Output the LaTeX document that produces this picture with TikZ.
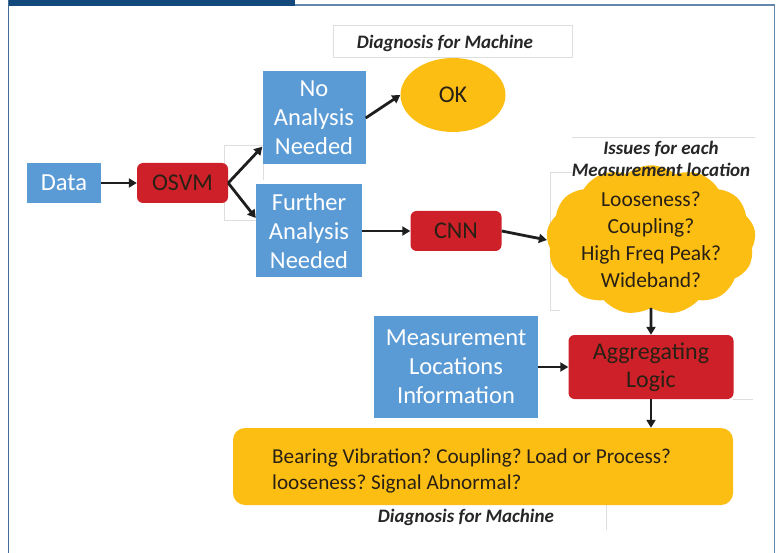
\documentclass[tikz,border=0pt]{standalone}
\usepackage{fontspec}
\setmainfont{Carlito}
\usetikzlibrary{arrows.meta,shapes.geometric,shapes.symbols,calc}
\definecolor{boxblue}{RGB}{91,155,213}
\definecolor{boxred}{RGB}{206,32,41}
\definecolor{boxyellow}{RGB}{253,190,20}
\definecolor{bardark}{RGB}{18,72,124}
\definecolor{barlight}{RGB}{100,135,175}
\definecolor{arrowdark}{RGB}{30,30,30}
\definecolor{textdark}{RGB}{40,32,20}
\definecolor{faint}{RGB}{222,222,222}
\tikzset{
  bluebox/.style={fill=boxblue, draw=none, text=white, align=center, inner sep=0pt,
    font=\fontsize{24.5}{29}\selectfont},
  redbox/.style={fill=boxred, draw=none, text=textdark, align=center, inner sep=0pt,
    rounded corners=6pt, font=\fontsize{24}{28}\selectfont},
  yellowshape/.style={fill=boxyellow, draw=none, text=textdark, align=center, inner sep=0pt},
  labeltext/.style={text=black!85, align=center, inner sep=0pt,
    font=\fontsize{19}{22}\selectfont\bfseries\itshape},
  arr/.style={draw=arrowdark, line width=2.8pt, -{Triangle[length=8pt,width=9pt]}},
  faintline/.style={draw=faint, line width=0.8pt}
}
\begin{document}
\frenchspacing
\begin{tikzpicture}[x=1pt,y=-1pt]
\useasboundingbox (0,0) rectangle (776,553);
% frame
\fill[white] (0,0) rectangle (776,553);
\fill[bardark] (8,0) rectangle (295,6);
\draw[barlight, line width=1.5pt] (295,5) -- (774.5,5) -- (774.5,553);
\draw[bardark!80, line width=1.5pt] (8.5,0) -- (8.5,553);

% faint text-box outlines
\draw[faintline] (333,25) rectangle (572,57);
\draw[faintline] (263,180) -- (263,145) -- (224,145) -- (224,220) -- (256,220);
\draw[faintline] (572,137) -- (755,137);
\draw[faintline] (572,172) -- (550,172) -- (550,310) -- (560,310);
\draw[faintline] (733,399) -- (753,399);
\draw[faintline] (606,505) -- (606,530);

% nodes
\node[bluebox, minimum width=74pt, minimum height=40pt] (data) at (64,183) {Data};
\node[redbox, minimum width=91pt, minimum height=40pt] (osvm) at (182.5,183) {OSVM};
\node[bluebox, minimum width=103pt, minimum height=93pt] (noan) at (314,118) {No\\Analysis\\Needed};
\node[bluebox, minimum width=106pt, minimum height=93pt] (fur) at (309,231) {Further\\Analysis\\Needed};
\node[yellowshape, ellipse, minimum width=105pt, minimum height=74pt,
  font=\fontsize{24}{28}\selectfont] (ok) at (453,95) {OK};
\node[labeltext] (lbltop) at (445,43) {Diagnosis for Machine};
\node[redbox, minimum width=91pt, minimum height=40pt] (cnn) at (456,231) {CNN};
\node[yellowshape, cloud, cloud puffs=13, cloud puff arc=80, aspect=1.5,
  minimum width=198pt, minimum height=132pt,
  font=\fontsize{21.5}{27}\selectfont] (cloud) at (651,240) {Looseness?\\Coupling?\\High Freq Peak?\\Wideband?};
\node[labeltext] (lblcloud) at (661,159) {Issues for each\\Measurement location};
\node[bluebox, minimum width=164pt, minimum height=102pt] (meas) at (456,367) {Measurement\\Locations\\Information};
\node[redbox, minimum width=165pt, minimum height=64pt] (agg) at (651,367) {Aggregating\\Logic};
\node[yellowshape, rounded corners=12pt, minimum width=500pt, minimum height=77pt] (diag) at (483,466.5) {};
\node[text=textdark, align=left, inner sep=0pt, anchor=west,
  font=\fontsize{21.2}{26}\selectfont] (diagtxt) at (272,471)
  {Bearing Vibration? Coupling? Load or Process?\\looseness? Signal Abnormal?};
\node[labeltext] (lblbot) at (466,517) {Diagnosis for Machine};

% connectors
\draw[arr] (data) -- (osvm);
\draw[arr] (osvm.east) -- ([yshift=18pt]noan.south west);
\draw[arr] (osvm.east) -- ([yshift=13pt]fur.west);
\draw[arr] (noan.east) -- (ok.west);
\draw[arr] (fur.east) -- (cnn.west);
\draw[arr] (cnn.east) -- (cloud.west);
\draw[arr] (cloud.south) -- (agg.north);
\draw[arr] (meas.east) -- (agg.west);
\draw[arr] (agg.south) -- (agg.south |- diag.north);
\end{tikzpicture}
\end{document}
